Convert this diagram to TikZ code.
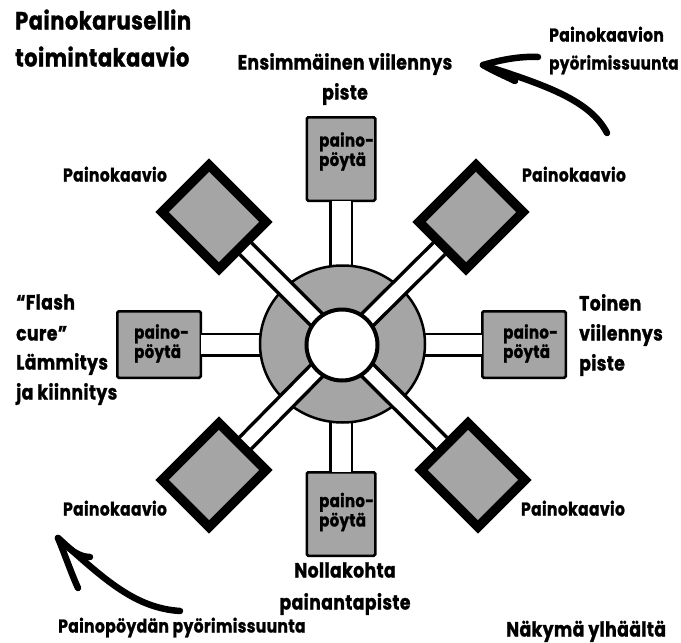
\documentclass[tikz,border=0pt]{standalone}
\usepackage{fontspec}
\setmainfont[FakeStretch=0.84,LetterSpace=2.0,BoldFeatures={FakeBold=1.2}]{Poppins}
\usepackage{tikz}
\definecolor{plategray}{RGB}{165, 165, 165}
\usetikzlibrary{shapes.geometric}

\begin{document}
\begin{tikzpicture}[x=1pt, y=-1pt,
				platebox/.style={draw, fill=plategray, line width=2.5pt, rounded corners=1.5pt, inner sep=0pt, outer sep=0pt},
				chartbox/.style={draw, fill=plategray, line width=9.5pt, inner sep=0pt, minimum width=80.5pt, minimum height=66.5pt},
				arm/.style={draw, line width=2.5pt, double=white, double distance=19pt},
				slantarm/.style={draw, line width=3.5pt, double=white, double distance=13pt},
				turn/.style={line width=6.5pt, line cap=round},
				lbl/.style={font=\bfseries\fontsize{18.5}{20}\selectfont, inner sep=0pt, text height=13pt, text depth=4pt},
				biglbl/.style={lbl, font=\bfseries\fontsize{20.5}{22}\selectfont},
				titlelbl/.style={lbl, font=\bfseries\fontsize{25}{27}\selectfont, anchor=west},
				plate/.style={font=\bfseries\fontsize{17.8}{17}\selectfont, align=left, inner sep=0pt, anchor=west}]
				\useasboundingbox (0,0) rectangle (681,643);
				\coordinate (mid) at (342,345);
				% Painopoydat
				\node[platebox, minimum width=68.5pt, minimum height=83.5pt] (topbox) at (341,159) {};
				\node[platebox, minimum width=68.5pt, minimum height=83.5pt] (botbox) at (341,514) {};
				\node[platebox, minimum width=83.5pt, minimum height=66.5pt] (leftbox) at (159,344.5) {};
				\node[platebox, minimum width=83.5pt, minimum height=66.5pt] (rightbox) at (524,344.5) {};
				% Painokaaviot
				\foreach \n/\px/\py/\r in {ne/471/217/45, nw/214/217/-45, sw/214/475/45, se/473/475/-45}
					\node[chartbox, rotate=\r] (\n box) at (\px,\py) {};
				% Varret suoraan
				\foreach \n in {topbox,botbox} \draw[arm] (\n) -- (\n |- mid);
				\foreach \n in {leftbox,rightbox} \draw[arm] (\n) -- (\n -| mid);
				% Karuselli
				\node[draw, ellipse, fill=plategray, line width=2.5pt, inner sep=0pt, minimum width=165pt, minimum height=157pt] (ring) at (342.5,344) {};
				\foreach \n in {ne,nw,sw,se} \draw[slantarm] (mid) -- (\n box);
				\node[draw, circle, fill=white, line width=4pt, inner sep=0pt, minimum size=71pt] (hub) at (mid) {};
				% Tekstit poydissa
				\node[plate] (toptext) at (319,151.5) {paino-\\pöytä};
				\node[plate] (bottext) at (319,512) {paino-\\pöytä};
				\node[plate] (lefttext) at (134,343.5) {paino-\\pöytä};
				\node[plate] (righttext) at (503,343.5) {paino-\\pöytä};
				% Otsikko
				\node[titlelbl] (title) at (15,25) {Painokarusellin};
				\node[titlelbl] (subtitle) at (15,62) {toimintakaavio};
				% Beschriftung
				\node[biglbl] (first) at (345,65) {Ensimmäinen viilennys};
				\node[biglbl] (firstb) at (345,95) {piste};
				\node[lbl, anchor=west] (turna) at (549,37) {Painokaavion};
				\node[lbl, anchor=west, font=\bfseries\fontsize{18}{20}\selectfont] (turnb) at (549,65) {pyörimissuunta};
				\foreach \n/\px/\py in {lnw/115/177, lne/574/177, lsw/115/511, lse/573/511}
					\node[lbl] (\n) at (\px,\py) {Painokaavio};
				\node[biglbl, anchor=west] (flasha) at (16,305) {“Flash};
				\node[biglbl, anchor=west] (flashb) at (16,336) {cure”};
				\node[biglbl, anchor=west] (flashc) at (16,365) {Lämmitys};
				\node[biglbl, anchor=west] (flashd) at (16,395) {ja kiinnitys};
				\node[biglbl, anchor=west] (seconda) at (579,306) {Toinen};
				\node[biglbl, anchor=west] (secondb) at (579,336) {viilennys};
				\node[biglbl, anchor=west] (secondc) at (579,366) {piste};
				\node[biglbl] (zeroa) at (345,573) {Nollakohta};
				\node[biglbl] (zerob) at (345,605) {painantapiste};
				\node[lbl, anchor=west] (tableturn) at (58,628) {Painopöydän pyörimissuunta};
				\node[biglbl, anchor=west] (view) at (506,632) {Näkymä ylhäältä};
				% Pfeile
				\coordinate (tipa) at (483,65);
				\coordinate (taila) at (607,133);
				\coordinate (barba) at (538,57);
				\coordinate (barbb) at (515,81);
				\draw[turn] (taila) .. controls (590,100) and (545,85) .. (tipa);
				\draw[turn] (barba) .. controls (520,56) and (500,60) .. (tipa);
				\draw[turn] (barbb) .. controls (505,76) and (495,72) .. (tipa);
				\coordinate (tipb) at (58,538);
				\coordinate (tailb) at (180,611);
				\coordinate (barbc) at (90,557);
				\coordinate (barbd) at (78,588);
				\draw[turn] (tailb) .. controls (135,608) and (105,580) .. (tipb);
				\draw[turn] (barbc) .. controls (78,557) and (68,548) .. (tipb);
				\draw[turn] (barbd) .. controls (72,575) and (65,555) .. (tipb);
\end{tikzpicture}
\end{document}
